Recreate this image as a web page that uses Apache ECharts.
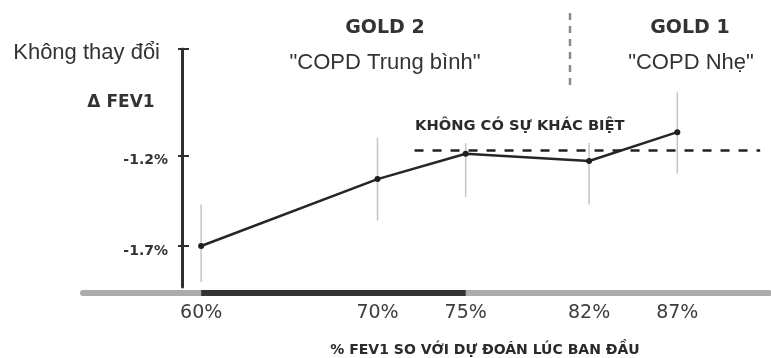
<!DOCTYPE html>
<html>
<head>
<meta charset="utf-8">
<script src="https://cdn.jsdelivr.net/npm/echarts@6/dist/echarts.min.js"></script>
<style>
  html, body { margin: 0; padding: 0; background: #ffffff; }
  #chart { width: 771px; height: 358px; }
</style>
</head>
<body>
<div id="chart"></div>
<script>
// Baseline FEV1 (% predicted) groups and the mean change in FEV1 for each
const fevPct = [60, 70, 75, 82, 87];
const fevLabels = ['60%', '70%', '75%', '82%', '87%'];
const deltaFev1 = [-1.70, -1.33, -1.19, -1.23, -1.07];
const errHigh = [-1.47, -1.10, -0.98, -1.03, -0.85];
const errLow = [-1.90, -1.56, -1.43, -1.47, -1.30];

// Y axis ticks (the axis is broken: its top stands for "no change")
const yTickValues = [-1.7, -1.2];
const yTickLabels = ['-1.7%', '-1.2%'];
const yTopValue = -0.61;
const yTopLabel = 'Không thay đổi';
const yBottomValue = -1.927;

// Reference level for "no difference" and GOLD 2 range on the baseline axis
const noDiffLevel = -1.168;
const noDiffRange = [72.1, 91.7];
const gold2Range = [60, 75];

const xMin = 53.3, xMax = 92.2;

const chart = echarts.init(document.getElementById('chart'), null, { renderer: 'canvas' });

const boldFont = 'DejaVu Sans';
const plainFont = 'Liberation Sans';

const yTickAll = yTickValues.concat([yTopValue]);

function yLabelFormatter(v) {
  if (Math.abs(v - yTopValue) < 1e-6) return '{top|' + yTopLabel + '}';
  const i = yTickValues.findIndex(t => Math.abs(t - v) < 1e-6);
  return '{num|' + (i >= 0 ? yTickLabels[i] : '') + '}';
}

const option = {
  backgroundColor: '#ffffff',
  animation: false,
  grid: { left: 83, right: 2, top: 49, bottom: 71 },
  xAxis: {
    type: 'value',
    min: xMin,
    max: xMax,
    offset: 6,
    axisLine: { show: true, lineStyle: { color: '#ababab', width: 6 } },
    axisTick: { show: false },
    splitLine: { show: false },
    axisLabel: {
      customValues: fevPct,
      formatter: v => fevLabels[fevPct.indexOf(v)] || '',
      margin: 11,
      color: '#3c3c3c',
      fontFamily: boldFont,
      fontSize: 19
    }
  },
  yAxis: [
    {
      type: 'value',
      position: 'left',
      min: yBottomValue,
      max: yTopValue,
      offset: -99,
      axisLine: { show: true, lineStyle: { color: '#2e2e2e', width: 3 } },
      axisTick: { show: true, customValues: yTickAll, length: 4, lineStyle: { color: '#2e2e2e', width: 2 } },
      splitLine: { show: false },
      axisLabel: {
        customValues: yTickAll,
        formatter: yLabelFormatter,
        margin: 14,
        rich: {
          num: { fontFamily: boldFont, fontWeight: 'bold', fontSize: 14, color: '#333', padding: [10, 0, 0, 0] },
          top: { fontFamily: plainFont, fontSize: 22, color: '#333', padding: [7, 8, 0, 0] }
        }
      }
    },
    {
      type: 'value',
      position: 'left',
      min: yBottomValue,
      max: yTopValue,
      offset: -99,
      axisLine: { show: false },
      axisTick: { show: true, inside: true, customValues: yTickAll, length: 7, lineStyle: { color: '#2e2e2e', width: 2 } },
      splitLine: { show: false },
      axisLabel: { show: false }
    }
  ],
  series: [
    {
      name: 'errorbars',
      type: 'custom',
      silent: true,
      z: 1,
      data: fevPct.map((x, i) => [x, errLow[i], errHigh[i]]),
      renderItem: function (params, api) {
        const lo = api.coord([api.value(0), api.value(1)]);
        const hi = api.coord([api.value(0), api.value(2)]);
        return {
          type: 'line',
          shape: { x1: lo[0], y1: lo[1], x2: hi[0], y2: hi[1] },
          style: { stroke: '#c4c4c4', lineWidth: 1.5 }
        };
      }
    },
    {
      name: 'ΔFEV1',
      type: 'line',
      z: 3,
      data: fevPct.map((x, i) => [x, deltaFev1[i]]),
      symbol: 'circle',
      symbolSize: 6,
      itemStyle: { color: '#1e1e1e' },
      lineStyle: { color: '#262626', width: 2.5 },
      markLine: {
        silent: true,
        symbol: 'none',
        label: { show: false },
        lineStyle: { color: '#222', width: 2.5, type: [9, 9] },
        data: [[
          { coord: [noDiffRange[0], noDiffLevel] },
          { coord: [noDiffRange[1], noDiffLevel] }
        ]]
      }
    }
  ]
};

chart.setOption(option);

// Annotations: group headings, axis captions and the dark GOLD 2 band on the baseline axis
const gx0 = chart.convertToPixel({ xAxisIndex: 0 }, gold2Range[0]);
const gx1 = chart.convertToPixel({ xAxisIndex: 0 }, gold2Range[1]);
const axisY = chart.convertToPixel({ yAxisIndex: 0 }, yBottomValue) + 6;

chart.setOption({
  graphic: [
    {
      type: 'rect', z: 10,
      shape: { x: gx0, y: axisY - 3, width: gx1 - gx0, height: 6 },
      style: { fill: '#333333' }
    },
    {
      type: 'text', x: 385, y: 28,
      style: { text: 'GOLD 2', font: 'bold 19px "DejaVu Sans"', fill: '#333', align: 'center', verticalAlign: 'middle' }
    },
    {
      type: 'text', x: 385, y: 63,
      style: { text: '"COPD Trung bình"', font: '22px "Liberation Sans"', fill: '#333', align: 'center', verticalAlign: 'middle' }
    },
    {
      type: 'text', x: 690, y: 28,
      style: { text: 'GOLD 1', font: 'bold 19px "DejaVu Sans"', fill: '#333', align: 'center', verticalAlign: 'middle' }
    },
    {
      type: 'text', x: 691, y: 63,
      style: { text: '"COPD Nhẹ"', font: '22px "Liberation Sans"', fill: '#333', align: 'center', verticalAlign: 'middle' }
    },
    {
      type: 'line',
      shape: { x1: 570, y1: 13, x2: 570, y2: 85 },
      style: { stroke: '#8a8a8a', lineWidth: 2.5, lineDash: [7, 6] }
    },
    {
      type: 'text', x: 121, y: 103,
      style: { text: 'Δ FEV1', font: 'bold 17px "DejaVu Sans"', fill: '#333', align: 'center', verticalAlign: 'middle' }
    },
    {
      type: 'text', x: 415, y: 126, z: 100,
      style: {
        text: 'KHÔNG CÓ SỰ KHÁC BIỆT', font: 'bold 14.7px "DejaVu Sans"', fill: '#2a2a2a',
        align: 'left', verticalAlign: 'middle',
        backgroundColor: '#ffffff', padding: [8, 4, 11, 0]
      }
    },
    {
      type: 'text', x: 485, y: 350,
      style: { text: '% FEV1 SO VỚI DỰ ĐOÁN LÚC BAN ĐẦU', font: 'bold 14px "DejaVu Sans"', fill: '#2a2a2a', align: 'center', verticalAlign: 'middle' }
    }
  ]
});
</script>
</body>
</html>
